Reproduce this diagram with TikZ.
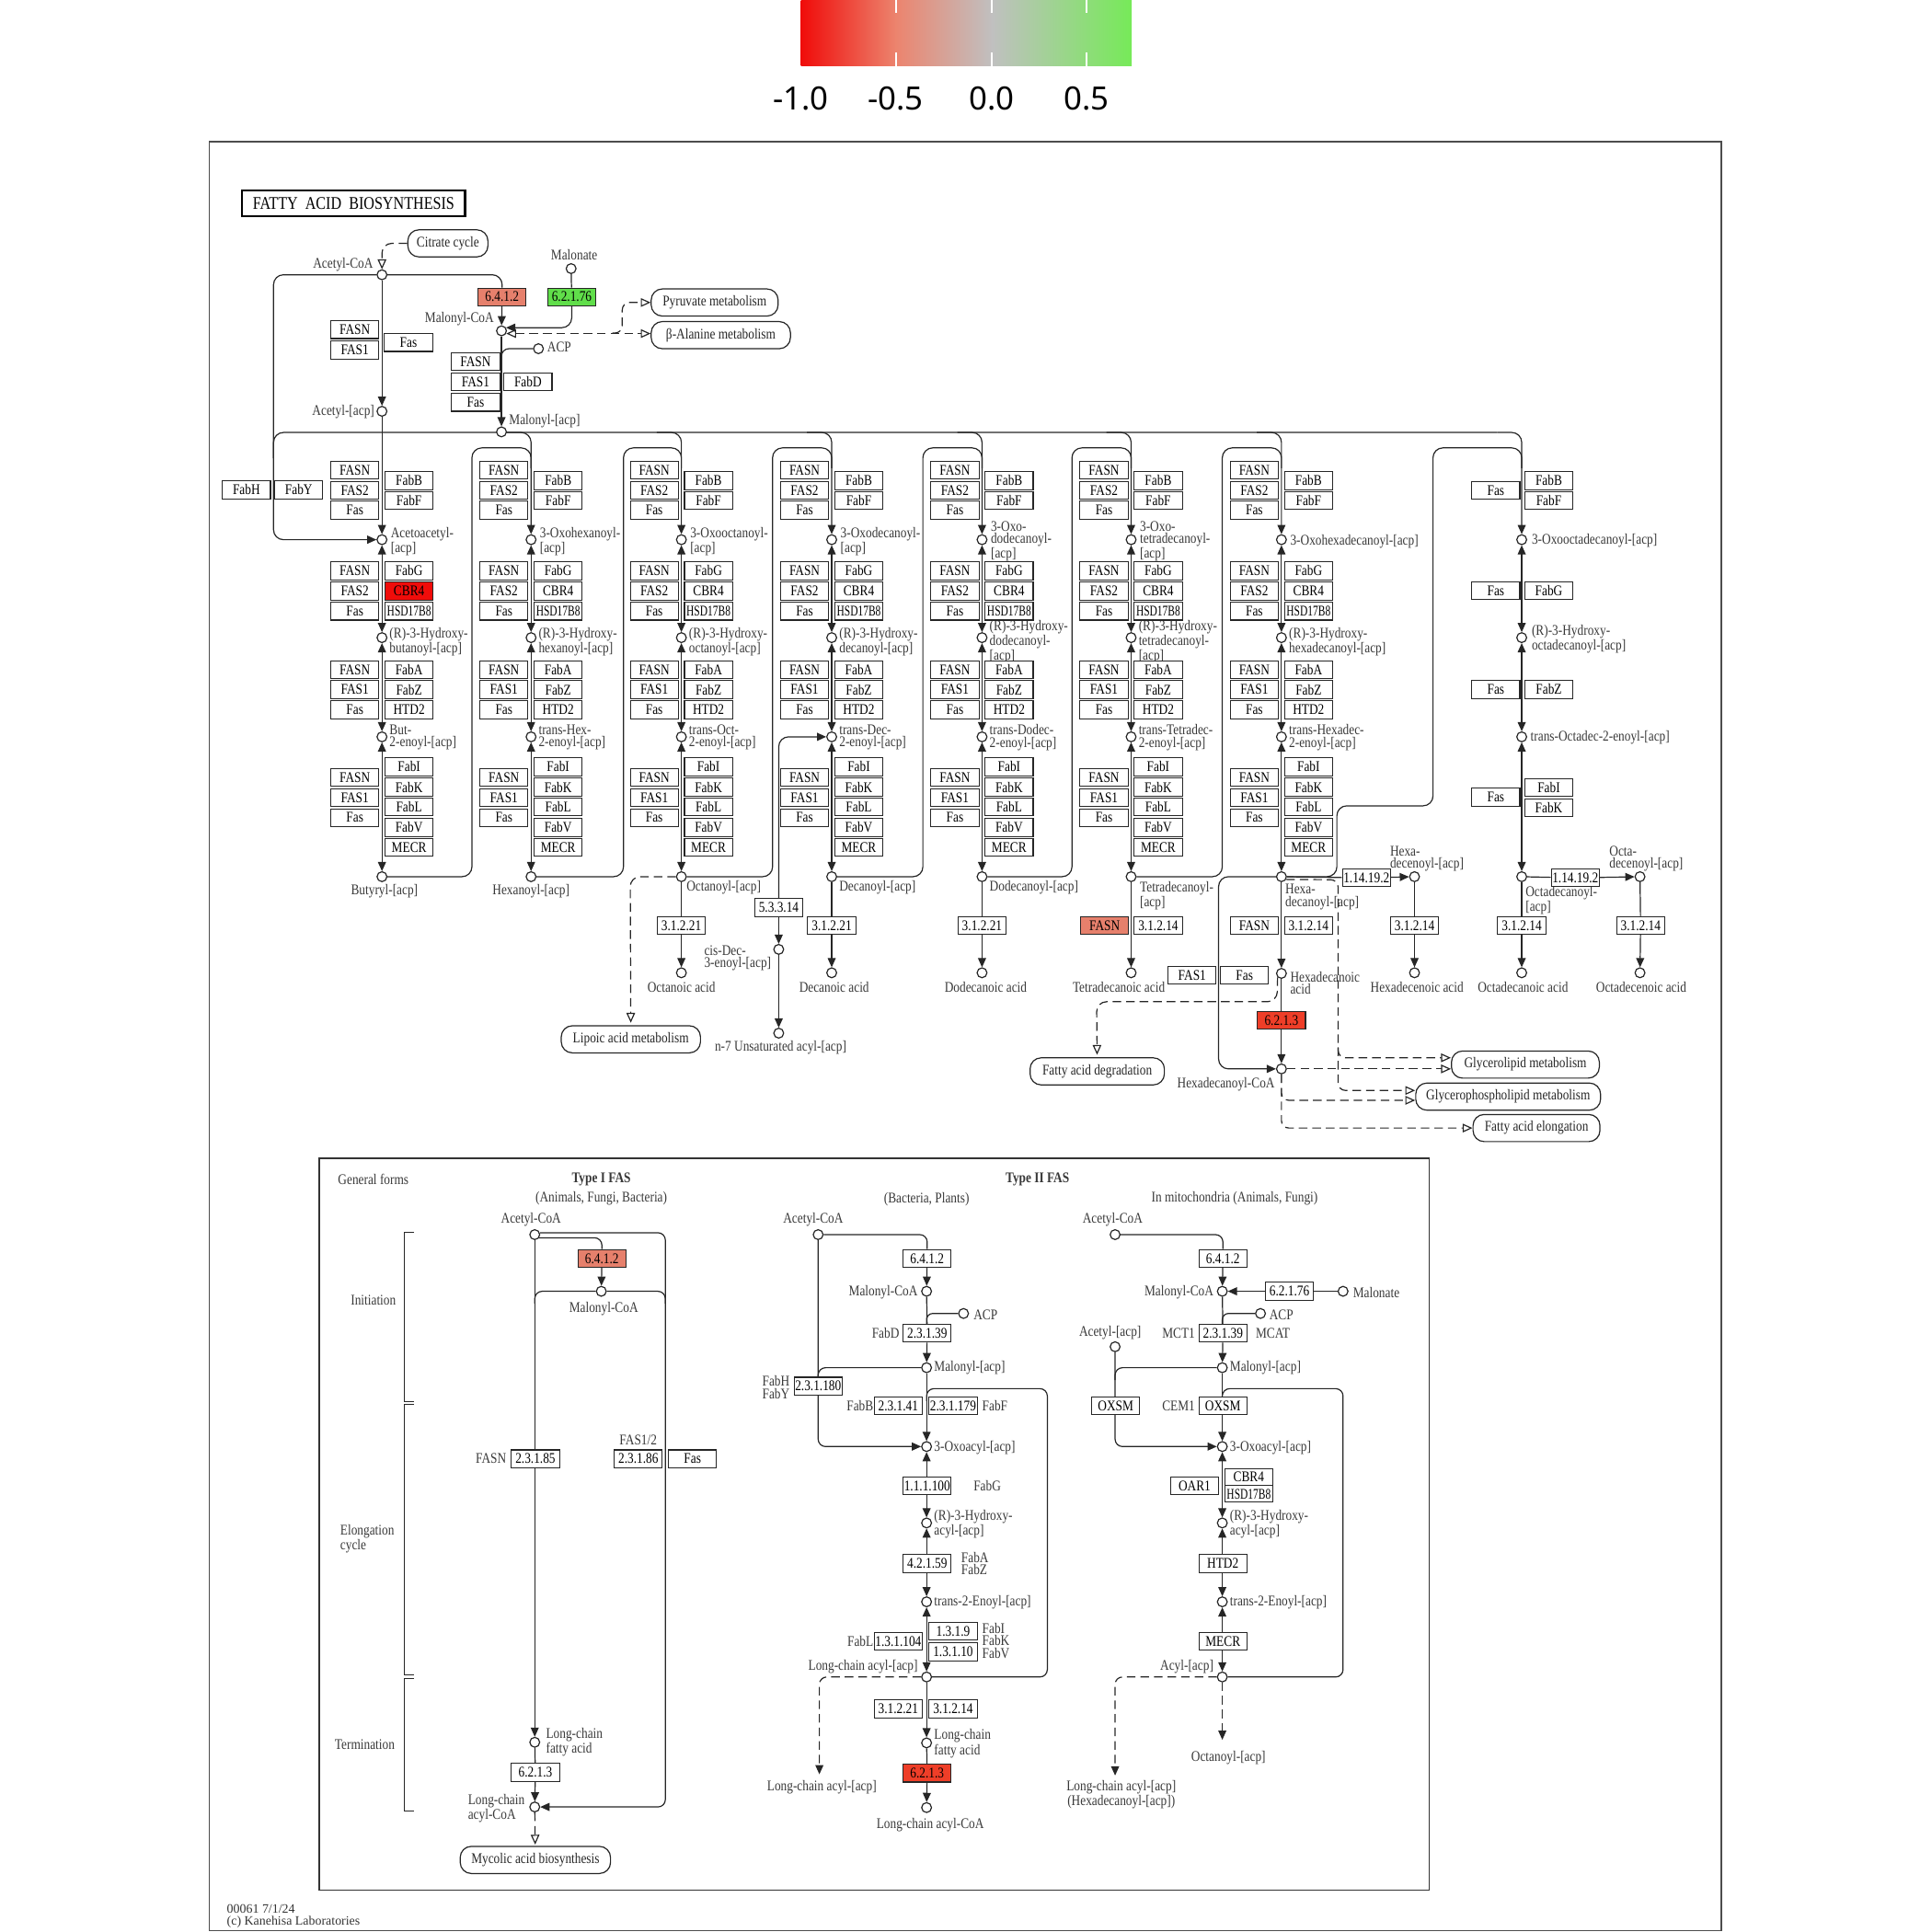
\documentclass[tikz,border=0pt]{standalone}
\usepackage{graphicx}
\usepackage{fontspec}
\setmainfont{Liberation Serif}
\newfontfamily\keggf[FakeStretch=0.83]{Liberation Serif}
\newfontfamily\legendf{Noto Sans}
\usetikzlibrary{arrows.meta, positioning, calc, backgrounds}

\definecolor{kred}{RGB}{240,12,10}
\definecolor{korange}{RGB}{238,62,40}
\definecolor{ksalmon}{RGB}{230,128,108}
\definecolor{kgreen}{RGB}{96,222,74}
\definecolor{kgray}{RGB}{192,192,192}
\definecolor{kmid}{RGB}{236,132,110}
\definecolor{klime}{RGB}{118,234,88}

\newcommand\cpdfont{\keggf\fontsize{12}{10}\selectfont}
\newcommand\enzfont{\keggf\fontsize{12}{12}\selectfont}
\newcommand\hsd{\scalebox{0.86}[1]{HSD17B8}}

\tikzset{
  rx/.style={line width=0.9pt, draw=black!85},
  tip/.style={-{Triangle[length=7.5pt,width=6.5pt]}},
  tips/.style={{Triangle[length=7.5pt,width=6.5pt]}-{Triangle[length=7.5pt,width=6.5pt]}},
  map/.style={rx, dash pattern=on 7pt off 4pt, -{Triangle[open,length=8pt,width=7pt]}},
  mapb/.style={rx, dash pattern=on 7pt off 4pt, {Triangle[open,length=8pt,width=7pt]}-{Triangle[open,length=8pt,width=7pt]}},
  dsh/.style={rx, dash pattern=on 7pt off 4pt, -{Triangle[length=7.5pt,width=6.5pt]}},
  cpd/.style={circle, draw=black!85, fill=white, line width=0.9pt, inner sep=0pt, minimum size=8pt},
  enz/.style={draw=black!85, fill=white, line width=0.8pt, minimum width=39pt, minimum height=14.5pt, inner sep=0pt, font=\enzfont},
  lbl/.style={inner sep=0pt, align=left, text=black!78, font=\cpdfont},
  mapbox/.style={draw=black!85, fill=white, line width=0.9pt, rounded corners=9pt, minimum height=22pt, inner sep=0pt, font=\cpdfont, text=black!85},
}

\begin{document}
\begin{tikzpicture}[x=1pt, y=-1pt]
\useasboundingbox (0,0) rectangle (1568,1568);

% colour key
\shade[left color=kred, right color=kmid] (650,0) rectangle (727.5,53.5);
\shade[left color=kmid, right color=kgray] (727,0) rectangle (805.5,53.5);
\shade[left color=kgray, right color=klime] (805,0) rectangle (918.5,53.5);
\foreach \tx in {727,805,882} {
  \draw[white, line width=1.3pt] (\tx,0) -- (\tx,10.5);
  \draw[white, line width=1.3pt] (\tx,42.5) -- (\tx,53.5);
}
\foreach \tx/\tl in {650/-1.0,727/-0.5,805/0.0,882/0.5}
  \node[font=\legendf\fontsize{26}{30}\selectfont, inner sep=0pt] (key\tx) at (\tx,80) {\tl};

% frame
\draw[line width=1pt, black!70] (170,115) rectangle (1397,1567);

% ---------- initiation ----------
\node[draw, line width=1.8pt, minimum width=181pt, minimum height=21pt, inner sep=0pt, font=\keggf\fontsize{14.5}{15}\selectfont] (title) at (287,165) {FATTY\ \ ACID\ \ BIOSYNTHESIS};
\node[mapbox, minimum width=65pt] (citr) at (363.5,197.5) {Citrate cycle};
\node[cpd] (acoa) at (310,223) {};
\node[lbl, anchor=east] (acoaL) at (303,215) {Acetyl-CoA};
\node[enz, fill=ksalmon] (acc) at (407.5,241) {6.4.1.2};
\node[cpd] (mal) at (463.5,218) {};
\node[lbl] (malL) at (466,207) {Malonate};
\node[enz, fill=kgreen] (mcs) at (464,241) {6.2.1.76};
\node[cpd] (mcoa) at (407,268.5) {};
\node[lbl, anchor=east] (mcoaL) at (401,259) {Malonyl-CoA};
\node[mapbox, minimum width=103pt] (pyr) at (580,245.5) {Pyruvate metabolism};
\node[mapbox, minimum width=113pt] (bala) at (585,272) {β-Alanine metabolism};
\node[cpd] (acp) at (437,283) {};
\node[lbl, anchor=west] (acpL) at (444,282) {ACP};
\node[enz] (mf1) at (386,293.5) {FASN};
\node[enz] (mf2) at (386,310) {FAS1};
\node[enz] (mf3) at (386,326.5) {Fas};
\node[enz] (mfd) at (428.5,310) {FabD};
\node[cpd] (macp) at (407,350.5) {};
\node[lbl, anchor=west] (macpL) at (413,341.5) {Malonyl-[acp]};
\node[enz] (af1) at (288,267.5) {FASN};
\node[enz] (af2) at (288,284) {FAS1};
\node[enz] (af3) at (331.5,278) {Fas};
\node[cpd] (aacp) at (310,333.8) {};
\node[lbl, anchor=east] (aacpL) at (304,334) {Acetyl-[acp]};
\node[enz] (fabh) at (200,397.5) {FabH};
\node[enz] (faby) at (242.5,397.5) {FabY};
\coordinate (pj) at (497,270.3);

% ---------- elongation columns ----------
\foreach \i/\cx/\nox/\nhy/\nen/\fc in {
  1/310/{Acetoacetyl-\\{}[acp]}/{(R)-3-Hydroxy-\\butanoyl-[acp]}/{But-\\2-enoyl-[acp]}/kred,
  2/431/{3-Oxohexanoyl-\\{}[acp]}/{(R)-3-Hydroxy-\\hexanoyl-[acp]}/{trans-Hex-\\2-enoyl-[acp]}/white,
  3/553/{3-Oxooctanoyl-\\{}[acp]}/{(R)-3-Hydroxy-\\octanoyl-[acp]}/{trans-Oct-\\2-enoyl-[acp]}/white,
  4/675/{3-Oxodecanoyl-\\{}[acp]}/{(R)-3-Hydroxy-\\decanoyl-[acp]}/{trans-Dec-\\2-enoyl-[acp]}/white,
  5/797/{3-Oxo-\\dodecanoyl-\\{}[acp]}/{(R)-3-Hydroxy-\\dodecanoyl-\\{}[acp]}/{trans-Dodec-\\2-enoyl-[acp]}/white,
  6/918/{3-Oxo-\\tetradecanoyl-\\{}[acp]}/{(R)-3-Hydroxy-\\tetradecanoyl-\\{}[acp]}/{trans-Tetradec-\\2-enoyl-[acp]}/white,
  7/1040/{3-Oxohexadecanoyl-[acp]}/{(R)-3-Hydroxy-\\hexadecanoyl-[acp]}/{trans-Hexadec-\\2-enoyl-[acp]}/white} {
  \node[cpd] (ox\i) at (\cx,438) {};
  \node[cpd] (hy\i) at (\cx,517.5) {};
  \node[cpd] (en\i) at (\cx,598) {};
  \node[cpd] (ac\i) at (\cx,711.5) {};
  \node[lbl, anchor=west] (oxL\i) at ({\cx+7},439.5) {\nox};
  \node[lbl, anchor=west] (hyL\i) at ({\cx+6},521) {\nhy};
  \node[lbl, anchor=west] (enL\i) at ({\cx+6},598.5) {\nen};
  \node[enz] (kA\i) at ({\cx-22},381.5) {FASN};
  \node[enz] (kB\i) at ({\cx-22},397.8) {FAS2};
  \node[enz] (kC\i) at ({\cx-22},414) {Fas};
  \node[enz] (kD\i) at ({\cx+22},390) {FabB};
  \node[enz] (kE\i) at ({\cx+22},406.3) {FabF};
  \node[enz] (kF\i) at ({\cx-22},463.3) {FASN};
  \node[enz] (kG\i) at ({\cx-22},479.7) {FAS2};
  \node[enz] (kH\i) at ({\cx-22},496) {Fas};
  \node[enz] (kI\i) at ({\cx+22},463.3) {FabG};
  \node[enz, fill=\fc] (kJ\i) at ({\cx+22},479.7) {CBR4};
  \node[enz] (kK\i) at ({\cx+22},496) {\hsd};
  \node[enz] (kL\i) at ({\cx-22},543.4) {FASN};
  \node[enz] (kM\i) at ({\cx-22},559.7) {FAS1};
  \node[enz] (kN\i) at ({\cx-22},576) {Fas};
  \node[enz] (kO\i) at ({\cx+22},543.4) {FabA};
  \node[enz] (kP\i) at ({\cx+22},559.7) {FabZ};
  \node[enz] (kQ\i) at ({\cx+22},576) {HTD2};
  \node[enz] (kR\i) at ({\cx-22},631) {FASN};
  \node[enz] (kS\i) at ({\cx-22},647.3) {FAS1};
  \node[enz] (kT\i) at ({\cx-22},663.6) {Fas};
  \node[enz] (kU\i) at ({\cx+22},622.3) {FabI};
  \node[enz] (kV\i) at ({\cx+22},638.8) {FabK};
  \node[enz] (kW\i) at ({\cx+22},655) {FabL};
  \node[enz] (kX\i) at ({\cx+22},671.5) {FabV};
  \node[enz] (kY\i) at ({\cx+22},687.8) {MECR};
  \begin{scope}[on background layer]
    \draw[rx, tips] (ox\i) -- (hy\i);
    \draw[rx, tips] (hy\i) -- (en\i);
    \draw[rx, tips] (en\i) -- (ac\i);
    \ifnum\i>1 \draw[rx, rounded corners=8pt, tip] ({\cx-20},351) -- (\cx,351) -- (ox\i); \fi
  \end{scope}
}

% column 8 (Fas only)
\node[cpd] (ox8) at (1235,438) {};
\node[cpd] (hy8) at (1235,517.5) {};
\node[cpd] (en8) at (1235,598) {};
\node[cpd] (ac8) at (1235,711.5) {};
\node[lbl, anchor=west] (oxL8) at (1243,438.5) {3-Oxooctadecanoyl-[acp]};
\node[lbl, anchor=west] (hyL8) at (1243,518.5) {(R)-3-Hydroxy-\\octadecanoyl-[acp]};
\node[lbl, anchor=west] (enL8) at (1242,598.5) {trans-Octadec-2-enoyl-[acp]};
\node[enz] (kA8) at (1214,398) {Fas};
\node[enz] (kD8) at (1257,390) {FabB};
\node[enz] (kE8) at (1257,406.3) {FabF};
\node[enz] (kF8) at (1214,479.5) {Fas};
\node[enz] (kI8) at (1257,479.5) {FabG};
\node[enz] (kL8) at (1214,559.5) {Fas};
\node[enz] (kP8) at (1257,559.5) {FabZ};
\node[enz] (kR8) at (1214,647) {Fas};
\node[enz] (kU8) at (1257,639) {FabI};
\node[enz] (kV8) at (1257,655.5) {FabK};

% acyl-[acp] names
\node[lbl] (acL1) at (312,723.5) {Butyryl-[acp]};
\node[lbl] (acL2) at (431,723.5) {Hexanoyl-[acp]};
\node[lbl, anchor=west] (acL3) at (557,720.5) {Octanoyl-[acp]};
\node[lbl, anchor=west] (acL4) at (681,720.5) {Decanoyl-[acp]};
\node[lbl, anchor=west] (acL5) at (803,720.5) {Dodecanoyl-[acp]};
\node[lbl, anchor=west] (acL6) at (925,727) {Tetradecanoyl-\\{}[acp]};
\node[lbl, anchor=west] (acL7) at (1043,728) {Hexa-\\decanoyl-[acp]};
\node[lbl, anchor=west] (acL8) at (1238,731) {Octadecanoyl-\\{}[acp]};

% ---------- termination ----------
\node[enz] (te3) at (553,751) {3.1.2.21};
\node[cpd] (fa3) at (553,789.5) {};
\node[lbl] (faL3) at (553,801) {Octanoic acid};
\node[enz] (te4) at (675,751) {3.1.2.21};
\node[cpd] (fa4) at (675,789.5) {};
\node[lbl] (faL4) at (677,801) {Decanoic acid};
\node[enz] (te5) at (797,751) {3.1.2.21};
\node[cpd] (fa5) at (797,789.5) {};
\node[lbl] (faL5) at (800,801) {Dodecanoic acid};
\node[enz, fill=ksalmon] (fasn6) at (896.5,751) {FASN};
\node[enz] (te6) at (940,751) {3.1.2.14};
\node[cpd] (fa6) at (918,789.5) {};
\node[lbl] (faL6) at (908,801.5) {Tetradecanoic acid};
\node[enz] (fasn7) at (1018,751) {FASN};
\node[enz] (te7) at (1062,751) {3.1.2.14};
\node[cpd] (fa7) at (1040,790) {};
\node[lbl, anchor=west] (faL7) at (1047,798) {Hexadecanoic\\acid};
\node[enz] (fas7a) at (967.5,791.6) {FAS1};
\node[enz] (fas7b) at (1010,791.6) {Fas};
\node[enz, fill=korange] (acs7) at (1040,828) {6.2.1.3};
\node[cpd] (hcoa) at (1040,867.5) {};
\node[lbl] (hcoaL) at (995,880) {Hexadecanoyl-CoA};
\node[enz] (des7) at (1109,712.5) {1.14.19.2};
\node[cpd] (hd) at (1148,711.5) {};
\node[lbl, anchor=west] (hdL) at (1128,697) {Hexa-\\decenoyl-[acp]};
\node[enz] (te7b) at (1148,751) {3.1.2.14};
\node[cpd] (hda) at (1148,789.5) {};
\node[lbl] (hdaL) at (1150,801.5) {Hexadecenoic acid};
\node[enz] (des8) at (1278.5,712.5) {1.14.19.2};
\node[cpd] (od) at (1331,711.5) {};
\node[lbl, anchor=west] (odL) at (1306,697) {Octa-\\decenoyl-[acp]};
\node[enz] (te8) at (1235,751) {3.1.2.14};
\node[cpd] (fa8) at (1235,789.5) {};
\node[lbl] (faL8) at (1236,801.5) {Octadecanoic acid};
\node[enz] (te8b) at (1331.5,751) {3.1.2.14};
\node[cpd] (oda) at (1331,789.5) {};
\node[lbl] (odaL) at (1332,801.5) {Octadecenoic acid};
\node[enz] (iso) at (632,736.5) {5.3.3.14};
\node[cpd] (cis) at (632,770.5) {};
\node[lbl, anchor=east] (cisL) at (626,777.5) {cis-Dec-\\3-enoyl-[acp]};
\node[cpd] (n7) at (632,838.5) {};
\node[lbl, anchor=west] (n7L) at (580,850) {n-7 Unsaturated acyl-[acp]};
\node[mapbox, minimum width=113pt] (lipo) at (512,843.5) {Lipoic acid metabolism};
\node[mapbox, minimum width=109pt] (fdeg) at (890.5,869.5) {Fatty acid degradation};
\node[mapbox, minimum width=120pt] (glyl) at (1238,864) {Glycerolipid metabolism};
\node[mapbox, minimum width=150pt] (gphl) at (1224,890) {Glycerophospholipid metabolism};
\node[mapbox, minimum width=103pt] (fael) at (1247,915.5) {Fatty acid elongation};
\coordinate (gb) at (1086,850);

\begin{scope}[on background layer]
  % initiation
  \draw[map, rounded corners=8pt] (citr.west) -- (310,197.5) -- (acoa);
  \draw[rx, rounded corners=8pt, tip] (acoa) -- (222,223) -- (222,438) -- (ox1);
  \draw[rx, rounded corners=8pt] (acoa) -- (407.5,223) -- (acc);
  \draw[rx, tip] (acc) -- (mcoa);
  \draw[rx] (mal) -- (mcs);
  \draw[rx, rounded corners=8pt, tip] (mcs) -- (mcs |- mcoa.35) -- (mcoa.35);
  \draw[mapb] (mcoa.-30) -- (mcoa.-30 -| bala.west);
  \draw[map, rounded corners=6pt] (pj) -- (505,270.3) -- (505,245.5) -- (pyr.west);
  \draw[rx, rounded corners=6pt] (acp) -- (acp -| mcoa) -- ++(0,9);
  \draw[rx, tip] (mcoa) -- (macp);
  \draw[rx, tip] (acoa) -- (aacp);
  \draw[rx, tip] (aacp) -- (ox1);
  \draw[rx, rounded corners=8pt] (222,372) -- (222,351) -- (1215,351);
  \draw[rx, rounded corners=8pt, tip] (1215,351) -- (1235,351) -- (ox8);
  % column 8 steps
  \draw[rx, tips] (ox8) -- (hy8);
  \draw[rx, tips] (hy8) -- (en8);
  \draw[rx, tips] (en8) -- (ac8);
  % loops back to the next round
  \foreach \i/\vx/\nx in {1/383/431, 2/506/553, 3/627/675, 4/749/797, 5/870/918, 6/992/1040}
    \draw[rx, rounded corners=8pt] (ac\i) -- (\vx,711.5) -- (\vx,363.5) -- (\nx,363.5) -- (\nx,380);
  \draw[rx, rounded corners=8pt] (ac7) -- (1085,711.5) -- (1085,654) -- (1163,654) -- (1163,363.5) -- (1235,363.5) -- (1235,380);
  % termination
  \draw[rx] (ac3) -- (te3);
  \draw[rx, tip] (te3) -- (fa3);
  \draw[rx] (ac4) -- (te4);
  \draw[rx, tip] (te4) -- (fa4);
  \draw[rx] (ac5) -- (te5);
  \draw[rx, tip] (te5) -- (fa5);
  \draw[rx, tip] (ac6) -- (fa6);
  \draw[rx, tip] (ac7) -- (fa7);
  \draw[rx] (fa7) -- (acs7);
  \draw[rx, tip] (acs7) -- (hcoa);
  \draw[rx, rounded corners=8pt, tip] (ac7) -- (989,711.5) -- (989,867.5) -- (hcoa);
  \draw[rx] (ac7) -- (des7);
  \draw[rx, tip] (des7) -- (hd);
  \draw[rx] (hd) -- (te7b);
  \draw[rx, tip] (te7b) -- (hda);
  \draw[rx] (ac8) -- (des8);
  \draw[rx, tip] (des8) -- (od);
  \draw[rx] (ac8) -- (te8);
  \draw[rx, tip] (te8) -- (fa8);
  \draw[rx] (od) -- (te8b);
  \draw[rx, tip] (te8b) -- (oda);
  \draw[rx, rounded corners=8pt, tip] (iso) -- (632,598) -- (en4);
  \draw[rx, tip] (iso) -- (cis);
  \draw[rx, tip] (cis) -- (n7);
  \draw[map, rounded corners=8pt, shorten >=2pt] (ac3) -- (511.5,711.5) -- (lipo);
  \draw[map, rounded corners=8pt, shorten >=2pt] (fa7.south west) -- (1036.5,813) -- (890,813) -- (fdeg);
  \draw[map, rounded corners=6pt] (ac7.-30) -- (1086,714) -- (1086,858.5) -- ($(glyl.west)+(0,-5.5)$);
  \draw[map, rounded corners=6pt] (gb) -- (1086,885) -- ($(gphl.west)+(0,-5)$);
  \draw[map] (hcoa) -- ($(glyl.west)+(0,3.5)$);
  \draw[map, rounded corners=6pt] (hcoa) -- (1040,893) -- ($(gphl.west)+(0,3)$);
  \draw[map, rounded corners=6pt] (hcoa) -- (1040,915.5) -- (fael.west);
\end{scope}

% ---------- general forms ----------
\draw[line width=1pt, black!80] (259,940) rectangle (1160,1534);
\node[lbl] (gform) at (303,957) {General forms};
\node[lbl, font=\cpdfont\bfseries] (typ1) at (488,957) {Type I FAS};
\node[lbl] (typ1s) at (488,973) {(Animals, Fungi, Bacteria)};
\node[lbl, font=\cpdfont\bfseries] (typ2) at (842,957) {Type II FAS};
\node[lbl] (typ2s) at (752,973) {(Bacteria, Plants)};
\node[lbl] (typ3s) at (1002,973) {In mitochondria (Animals, Fungi)};
\node[lbl] (stInit) at (303,1055.5) {Initiation};
\node[lbl, anchor=west] (stElong) at (276,1249) {Elongation\\cycle};
\node[lbl] (stTerm) at (296,1415.5) {Termination};
\draw[rx] (336,1000) -- (328,1000) -- (328,1137.5) -- (336,1137.5);
\draw[rx] (336,1140) -- (328,1140) -- (328,1359.5) -- (336,1359.5);
\draw[rx] (336,1362) -- (328,1362) -- (328,1470) -- (336,1470);

% type I
\node[cpd] (tacoa) at (434,1002) {};
\node[lbl] (tacoaL) at (431,990) {Acetyl-CoA};
\node[enz, fill=ksalmon] (tacc) at (488.5,1021.3) {6.4.1.2};
\node[cpd] (tmcoa) at (488,1048) {};
\node[lbl] (tmcoaL) at (490,1062) {Malonyl-CoA};
\coordinate (tk1) at (540,1000);
\node[enz] (tfasn) at (434.5,1184) {2.3.1.85};
\node[lbl, anchor=east] (tfasnL) at (411,1184) {FASN};
\node[enz] (tfas12) at (518,1184) {2.3.1.86};
\node[lbl] (tfas12L) at (518,1169) {FAS1/2};
\node[enz] (tfas) at (562,1184) {Fas};
\node[cpd] (tlfa) at (434,1414) {};
\node[lbl, anchor=west] (tlfaL) at (443,1414) {Long-chain\\fatty acid};
\node[enz] (tacs) at (434.5,1438.5) {6.2.1.3};
\node[cpd] (tlcoa) at (434,1466.5) {};
\node[lbl, anchor=east] (tlcoaL) at (426,1468) {Long-chain\\acyl-CoA};
\node[mapbox, minimum width=122pt] (myco) at (434.5,1509.5) {Mycolic acid biosynthesis};

% type II
\node[cpd] (bacoa) at (664,1002) {};
\node[lbl] (bacoaL) at (660,990) {Acetyl-CoA};
\node[enz] (bacc) at (752.5,1021.3) {6.4.1.2};
\node[cpd] (bmcoa) at (752,1048) {};
\node[lbl, anchor=east] (bmcoaL) at (745,1049) {Malonyl-CoA};
\node[cpd] (bacp) at (782,1066) {};
\node[lbl, anchor=west] (bacpL) at (790,1067) {ACP};
\node[enz] (bmat) at (752.5,1082) {2.3.1.39};
\node[lbl, anchor=east] (bmatL) at (730,1082) {FabD};
\node[cpd] (bmacp) at (752,1110) {};
\node[lbl, anchor=west] (bmacpL) at (758,1110) {Malonyl-[acp]};
\node[enz] (bks3) at (664,1125) {2.3.1.180};
\node[lbl, anchor=east] (bks3L) at (641,1126) {FabH\\FabY};
\node[enz] (bks1) at (729,1141) {2.3.1.41};
\node[lbl, anchor=east] (bks1L) at (709,1141) {FabB};
\node[enz] (bks2) at (773.5,1141) {2.3.1.179};
\node[lbl, anchor=west] (bks2L) at (797,1141) {FabF};
\node[cpd] (boxo) at (752,1174) {};
\node[lbl, anchor=west] (boxoL) at (758,1175) {3-Oxoacyl-[acp]};
\node[enz] (bkr) at (752.5,1206) {1.1.1.100};
\node[lbl, anchor=west] (bkrL) at (790,1206) {FabG};
\node[cpd] (bhy) at (752,1236) {};
\node[lbl, anchor=west] (bhyL) at (758,1237) {(R)-3-Hydroxy-\\acyl-[acp]};
\node[enz] (bdh) at (752.5,1269) {4.2.1.59};
\node[lbl, anchor=west] (bdhL) at (780,1269) {FabA\\FabZ};
\node[cpd] (ben) at (752,1300) {};
\node[lbl, anchor=west] (benL) at (758,1300.5) {trans-2-Enoyl-[acp]};
\node[enz] (ber1) at (729,1332) {1.3.1.104};
\node[lbl, anchor=east] (ber1L) at (709,1332) {FabL};
\node[enz] (ber2) at (773.5,1324) {1.3.1.9};
\node[enz] (ber3) at (773.5,1340.5) {1.3.1.10};
\node[lbl, anchor=west] (ber2L) at (797,1331.5) {FabI\\FabK\\FabV};
\node[cpd] (blacp) at (752,1361) {};
\node[lbl, anchor=east] (blacpL) at (745,1353) {Long-chain acyl-[acp]};
\coordinate (bdown) at (665,1440);
\node[lbl] (bdownL) at (667,1450.5) {Long-chain acyl-[acp]};
\node[enz] (bte1) at (729,1387) {3.1.2.21};
\node[enz] (bte2) at (773.5,1387) {3.1.2.14};
\node[cpd] (blfa) at (752,1414.5) {};
\node[lbl, anchor=west] (blfaL) at (758,1415) {Long-chain\\fatty acid};
\node[enz, fill=korange] (bacs) at (752.5,1439) {6.2.1.3};
\node[cpd] (blcoa) at (752,1467) {};
\node[lbl] (blcoaL) at (755,1481) {Long-chain acyl-CoA};
\coordinate (bk) at (850,1127);

% mitochondria
\node[cpd] (macoa) at (905,1002) {};
\node[lbl] (macoaL) at (903,990) {Acetyl-CoA};
\node[enz] (macc) at (992.5,1021.3) {6.4.1.2};
\node[cpd] (mmcoa) at (992,1048) {};
\node[lbl, anchor=east] (mmcoaL) at (985,1049) {Malonyl-CoA};
\node[enz] (mmcs) at (1046.5,1048) {6.2.1.76};
\node[cpd] (mmal) at (1090,1048) {};
\node[lbl, anchor=west] (mmalL) at (1098,1049) {Malonate};
\node[cpd] (macp2) at (1023,1066) {};
\node[lbl, anchor=west] (macp2L) at (1030,1067) {ACP};
\node[enz] (mmat) at (992.5,1082) {2.3.1.39};
\node[lbl, anchor=east] (mmatL) at (970,1082) {MCT1};
\node[lbl, anchor=west] (mmatR) at (1019,1082) {MCAT};
\node[cpd] (maacp) at (905,1093) {};
\node[lbl] (maacpL) at (901,1082) {Acetyl-[acp]};
\node[cpd] (mmacp) at (992,1110) {};
\node[lbl, anchor=west] (mmacpL) at (998,1110) {Malonyl-[acp]};
\node[enz] (mks1) at (905.5,1141) {OXSM};
\node[enz] (mks2) at (992.5,1141) {OXSM};
\node[lbl, anchor=east] (mks2L) at (970,1141) {CEM1};
\node[cpd] (moxo) at (992,1174) {};
\node[lbl, anchor=west] (moxoL) at (998,1175) {3-Oxoacyl-[acp]};
\node[enz] (mkr1) at (969.5,1206) {OAR1};
\node[enz, minimum height=13.5pt] (mkr2) at (1013.5,1198.5) {CBR4};
\node[enz, minimum height=13.5pt] (mkr3) at (1013.5,1212.5) {\hsd};
\node[cpd] (mhy) at (992,1236) {};
\node[lbl, anchor=west] (mhyL) at (998,1237) {(R)-3-Hydroxy-\\acyl-[acp]};
\node[enz] (mdh) at (992.5,1269) {HTD2};
\node[cpd] (men) at (992,1300) {};
\node[lbl, anchor=west] (menL) at (998,1300.5) {trans-2-Enoyl-[acp]};
\node[enz] (mer) at (992.5,1332) {MECR};
\node[cpd] (macyl) at (992,1361) {};
\node[lbl, anchor=east] (macylL) at (985,1353) {Acyl-[acp]};
\coordinate (mdown1) at (992,1412);
\node[lbl] (mdown1L) at (997,1426.5) {Octanoyl-[acp]};
\coordinate (mdown2) at (905,1441);
\node[lbl, align=center] (mdown2L) at (910,1456.5) {Long-chain acyl-[acp]\\(Hexadecanoyl-[acp])};
\coordinate (mk) at (1090,1127);

\begin{scope}[on background layer]
  % type I
  \draw[rx, rounded corners=6pt, tip] (tacoa.20) -- (tacoa.20 -| tk1) -- (tk1 |- tlcoa) -- (tlcoa);
  \draw[rx, rounded corners=6pt] (tacoa.-35) -- (tacoa.-35 -| tacc) -- (tacc);
  \draw[rx, tip] (tacc) -- (tmcoa);
  \draw[rx, rounded corners=6pt] (tmcoa) -- (tmcoa -| tacoa) -- ++(0,10);
  \draw[rx, rounded corners=6pt] (tmcoa) -- (tmcoa -| tk1) -- ++(0,10);
  \draw[rx, tip] (tacoa) -- (tlfa);
  \draw[rx] (tlfa) -- (tacs);
  \draw[rx, tip] (tacs) -- (tlcoa);
  \draw[map, shorten >=1pt] (tlcoa) -- (myco);
  % type II
  \draw[rx, rounded corners=6pt] (bacoa) -- (bacoa -| bacc) -- (bacc);
  \draw[rx, tip] (bacc) -- (bmcoa);
  \draw[rx, rounded corners=5pt] (bacp) -- (bacp -| bmcoa) -- ++(0,9);
  \draw[rx] (bmcoa) -- (bmat);
  \draw[rx, tip] (bmat) -- (bmacp);
  \draw[rx, rounded corners=6pt, tip] (bacoa) -- (bacoa |- boxo) -- (boxo);
  \draw[rx, rounded corners=6pt] (bmacp) -- (bmacp -| bacoa) -- ++(0,10);
  \draw[rx, tip] (bmacp) -- (boxo);
  \draw[rx, rounded corners=6pt] (blacp) -- (blacp -| bk) -- (bk) -- (bk -| boxo) -- ++(0,10);
  \draw[rx, tips] (boxo) -- (bhy);
  \draw[rx, tips] (bhy) -- (ben);
  \draw[rx, tips] (ben) -- (blacp);
  \draw[dsh, rounded corners=6pt] (blacp) -- (blacp -| bdown) -- (bdown);
  \draw[rx, tip] (blacp) -- (blfa);
  \draw[rx] (blfa) -- (bacs);
  \draw[rx, tip] (bacs) -- (blcoa);
  % mitochondria
  \draw[rx, rounded corners=6pt] (macoa) -- (macoa -| macc) -- (macc);
  \draw[rx, tip] (macc) -- (mmcoa);
  \draw[rx] (mmal) -- (mmcs);
  \draw[rx, tip] (mmcs) -- (mmcoa);
  \draw[rx, rounded corners=5pt] (macp2) -- (macp2 -| mmcoa) -- ++(0,9);
  \draw[rx] (mmcoa) -- (mmat);
  \draw[rx, tip] (mmat) -- (mmacp);
  \draw[rx, rounded corners=6pt, tip] (maacp) -- (maacp |- moxo) -- (moxo);
  \draw[rx, rounded corners=6pt] (mmacp) -- (mmacp -| maacp) -- ++(0,10);
  \draw[rx, tip] (mmacp) -- (moxo);
  \draw[rx, rounded corners=6pt] (macyl) -- (macyl -| mk) -- (mk) -- (mk -| moxo) -- ++(0,10);
  \draw[rx, tips] (moxo) -- (mhy);
  \draw[rx, tips] (mhy) -- (men);
  \draw[rx, tips] (men) -- (macyl);
  \draw[dsh] (macyl) -- (mdown1);
  \draw[dsh, rounded corners=6pt] (macyl) -- (macyl -| mdown2) -- (mdown2);
\end{scope}

% footer
\node[inner sep=0pt, anchor=west, align=left, text=black!80, font=\fontsize{10.4}{10}\selectfont] (foot) at (184,1555) {00061 7/1/24\\(c) Kanehisa Laboratories};
\end{tikzpicture}
\end{document}
